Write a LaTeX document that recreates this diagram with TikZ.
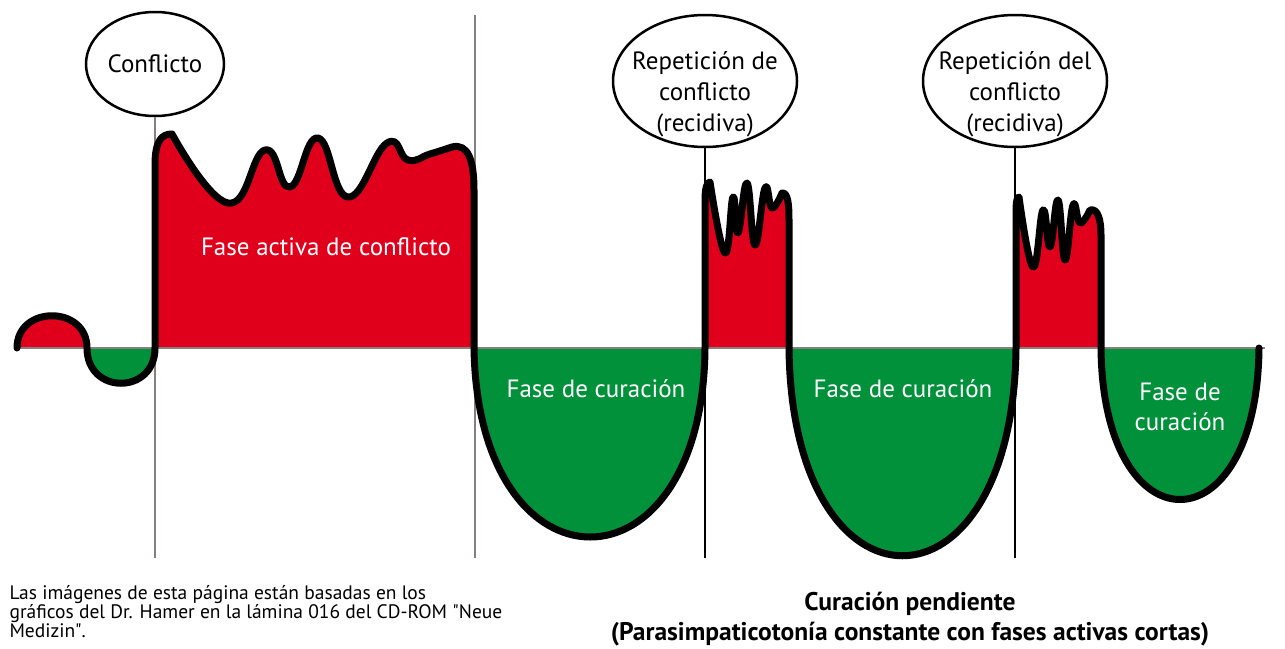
\documentclass[tikz,border=0pt]{standalone}
\usepackage{fontspec}
\setmainfont{PT Sans}
\usepackage{xcolor}
\usetikzlibrary{shapes.geometric}
\definecolor{activered}{RGB}{224,0,27}
\definecolor{healgreen}{RGB}{0,145,58}
\definecolor{axisgray}{RGB}{135,126,126}

% the course of the phases, drawn once and filled twice
\newcommand{\lifecurve}{(17,348) .. controls (17,305) and (87,305) .. (87,348)
 .. controls (87,395) and (155,395) .. (155,348)
 -- (155,165) .. controls (155,140) and (162,134) .. (172,134)
 -- plot[smooth,tension=0.8] coordinates {(172,134) (228,203) (265,150) (290,187) (318,138) (348,197) (387,143) (408,160) (430,154) (452,147)}
 .. controls (468,143) and (474,160) .. (474,190)
 -- (474,348) .. controls (478,600) and (703,600) .. (705,348)
 -- (705,200) .. controls (705,188) and (707,182) .. (710,182)
 -- plot[smooth,tension=0.75] coordinates {(710,182) (725,253) (733,197) (738,233) (747,183) (755,245) (765,188) (772,208) (782,193)}
 .. controls (788,192) and (789,205) .. (789,220)
 -- (789,348) .. controls (792,625) and (1013,625) .. (1016,348)
 -- (1016,212) .. controls (1016,202) and (1017,197) .. (1019,197)
 -- plot[smooth,tension=0.75] coordinates {(1019,197) (1033,267) (1043,210) (1050,247) (1058,200) (1065,260) (1073,205) (1080,223) (1090,210)}
 .. controls (1098,208) and (1101,220) .. (1101,235)
 -- (1101,348) .. controls (1103,550) and (1257,550) .. (1259,348)}

\begin{document}
\begin{tikzpicture}[x=1pt,y=-1pt,
  bubble/.style={ellipse,draw=black,line width=2.5pt,fill=white,inner sep=0pt,align=center,font=\fontsize{25}{31}\selectfont},
  phase/.style={text=white,align=center,font=\fontsize{25}{30}\selectfont},
  grid/.style={axisgray,line width=2.5pt},
  marker/.style={black,line width=2.5pt}]

\useasboundingbox (0,0) rectangle (1285,648);

% fills above and below the zero line
\begin{scope}
\clip (0,0) rectangle (1285,348);
\fill[activered] \lifecurve -- cycle;
\end{scope}
\begin{scope}
\clip (0,348) rectangle (1285,648);
\fill[healgreen] \lifecurve -- cycle;
\end{scope}

\draw[grid] (14,348) -- (1265,348);

\node[bubble,minimum width=138pt,minimum height=104pt] (conf) at (155,64) {Conflicto};
\node[bubble,inner sep=-14pt,minimum width=184pt,minimum height=132pt] (rep1) at (705,81) {\rule{0pt}{44pt}Repetición de\\conflicto\\(recidiva)};
\node[bubble,inner sep=-14pt,minimum width=184pt,minimum height=132pt] (rep2) at (1015,81) {\rule{0pt}{44pt}Repetición del\\conflicto\\(recidiva)};

\coordinate (conf-end) at (155,558);
\coordinate (heal-top) at (475,15);
\coordinate (heal-end) at (475,558);
\coordinate (rep1-end) at (705,558);
\coordinate (rep2-end) at (1015,558);

\draw[grid] (conf.south) -- (conf-end);
\draw[grid] (heal-top) -- (heal-end);
\draw[marker] (rep1.south) -- (rep1-end);
\draw[marker] (rep2.south) -- (rep2-end);

\draw[black,line width=7pt,line join=round,line cap=round] \lifecurve;

\node[phase] (active) at (326,247) {Fase activa de conflicto};
\node[phase] (heal1) at (596,389) {Fase de curación};
\node[phase] (heal2) at (903,389) {Fase de curación};
\node[phase] (heal3) at (1180,407) {Fase de\\curación};

\node[anchor=north west,align=left,font=\fontsize{19.5}{17.5}\selectfont] (note) at (6,582)
  {Las imágenes de esta página están basadas en los\\gráficos del Dr. Hamer en la lámina 016 del CD-ROM \textquotedbl Neue\\Medizin\textquotedbl.};
\node[align=center,font=\bfseries\fontsize{25.5}{30}\selectfont] (title) at (910,619)
  {Curación pendiente\\(Parasimpaticotonía constante con fases activas cortas)};

\end{tikzpicture}
\end{document}
